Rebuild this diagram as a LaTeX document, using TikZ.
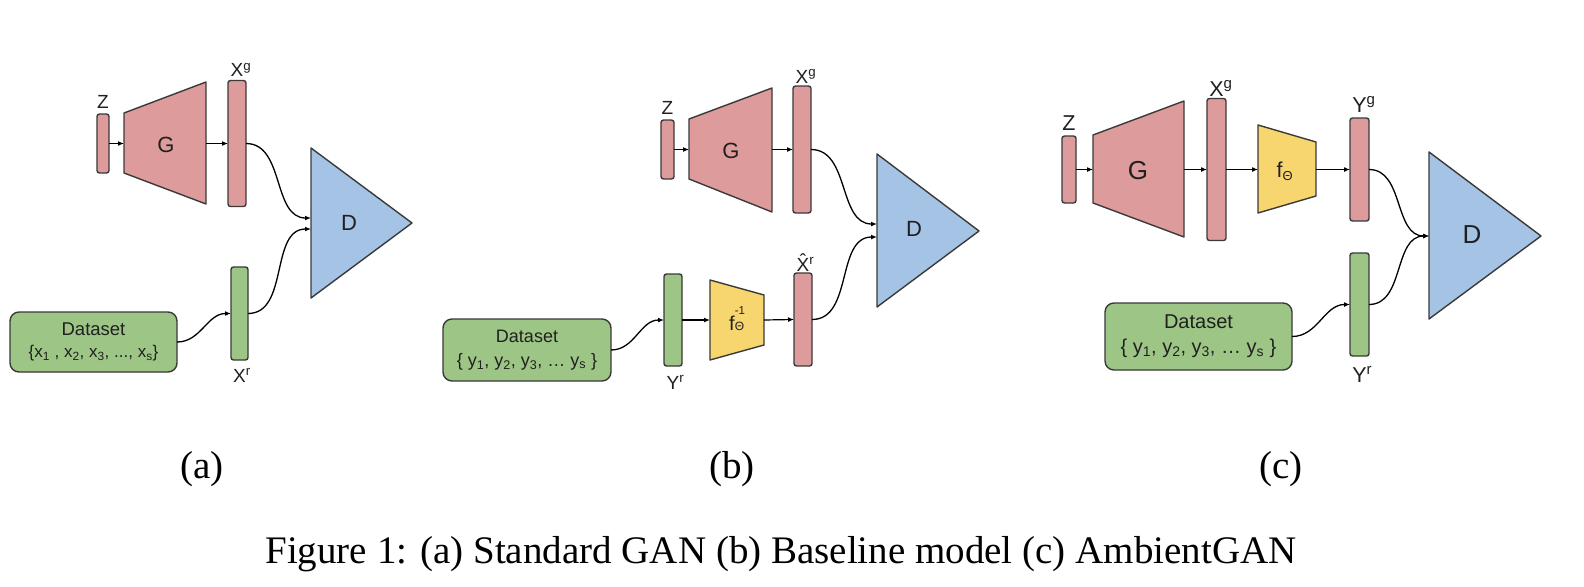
\documentclass[tikz,border=0pt]{standalone}
\usepackage{fontspec}
\setmainfont{Liberation Serif}
\setsansfont{Liberation Sans}
\usetikzlibrary{arrows.meta}
\definecolor{pinkf}{HTML}{DE9B9B}
\definecolor{greenf}{HTML}{9DC585}
\definecolor{yellowf}{HTML}{F8D66F}
\definecolor{bluef}{HTML}{A5C3E5}
\definecolor{edgec}{HTML}{3A3A3A}
\definecolor{txtc}{HTML}{202020}
\tikzset{
  bar/.style={draw=edgec, line width=1.4pt, rounded corners=2.5pt, inner sep=0pt, outer sep=0pt},
  blockshape/.style={draw=edgec, line width=1.4pt, line join=round},
  databox/.style={draw=edgec, line width=1.4pt, rounded corners=9pt, fill=greenf, inner sep=0pt, outer sep=0pt, align=center, text=txtc},
  lbl/.style={font=\sffamily\fontsize{19}{21}\selectfont, inner sep=0pt, text=txtc},
  lblc/.style={font=\sffamily\fontsize{21.5}{23}\selectfont, inner sep=0pt, text=txtc},
  big/.style={font=\sffamily\fontsize{22}{24}\selectfont, inner sep=0pt, text=txtc},
  bigc/.style={font=\sffamily\fontsize{26}{28}\selectfont, inner sep=0pt, text=txtc},
  arr/.style={-{Latex[length=6pt,width=5pt]}, line width=1.2pt, black},
  conn/.style={-{Latex[length=6pt,width=5pt]}, line width=1.3pt, black},
  captxt/.style={font=\rmfamily\fontsize{39}{42}\selectfont, inner sep=0pt}
}
\begin{document}
\begin{tikzpicture}[x=1pt,y=-1pt]
\useasboundingbox (0,0) rectangle (1584,586);
\fill[white] (0,0) rectangle (1584,586);

% ================= (a) =================
\node[bar,fill=pinkf,minimum width=12pt,minimum height=59pt] (aZ) at (103,143.5) {};
\node[lbl,anchor=base] (aZl) at (103,108) {Z};
\draw[blockshape,fill=pinkf] (124,113) -- (206,82) -- (206,204) -- (124,173) -- cycle;
\node[big] (aG) at (166,145) {G};
\coordinate (aGl) at (124,143.5);
\coordinate (aGr) at (206,143.5);
\node[bar,fill=pinkf,minimum width=18pt,minimum height=126pt] (aXg) at (237,143.5) {};
\node[lbl,anchor=base] (aXgl) at (237,77) {X\rlap{\textsuperscript{g}}};
\draw[arr] (aZ.east) -- (aGl);
\draw[arr] (aGr) -- (aXg.west);
\draw[blockshape,fill=bluef] (311,148) -- (412,223) -- (311,298) -- cycle;
\node[big] (aD) at (349,223) {D};
\coordinate (aDin1) at (311,218);
\coordinate (aDin2) at (311,229);
\node[bar,fill=greenf,minimum width=17pt,minimum height=93pt] (aXr) at (239.5,313.5) {};
\node[lbl,anchor=base] (aXrl) at (239.5,382) {X\rlap{\textsuperscript{r}}};
\node[databox,minimum width=167pt,minimum height=60pt,font=\sffamily\fontsize{17}{22}\selectfont] (aData) at (93.5,342)
  {{\fontsize{18.5}{22}\selectfont Dataset}\\\{x\textsubscript{1} , x\textsubscript{2}, x\textsubscript{3}, ..., x\textsubscript{s}\}};
\draw[conn] (aXg.east) to[out=0,in=180] (aDin1);
\draw[conn] (aXr.east) to[out=0,in=180] (aDin2);
\draw[conn] (aData.east) to[out=0,in=180] (aXr.west);
\node[captxt,anchor=base] (aCap) at (202,478) {(a)};

% ================= (b) =================
\node[bar,fill=pinkf,minimum width=13pt,minimum height=59pt] (bZ) at (667.5,149.5) {};
\node[lbl,anchor=base] (bZl) at (667.5,114) {Z};
\draw[blockshape,fill=pinkf] (689,119) -- (772,88) -- (772,212) -- (689,179) -- cycle;
\node[big] (bG) at (731,151) {G};
\coordinate (bGl) at (689,149.5);
\coordinate (bGr) at (772,149.5);
\node[bar,fill=pinkf,minimum width=18pt,minimum height=127pt] (bXg) at (802,149.5) {};
\node[lbl,anchor=base] (bXgl) at (802,83) {X\rlap{\textsuperscript{g}}};
\draw[arr] (bZ.east) -- (bGl);
\draw[arr] (bGr) -- (bXg.west);
\draw[blockshape,fill=bluef] (877,154) -- (979,231) -- (877,307) -- cycle;
\node[big] (bD) at (914,229) {D};
\coordinate (bDin1) at (877,224);
\coordinate (bDin2) at (877,237);
\node[bar,fill=greenf,minimum width=18pt,minimum height=92pt] (bYr) at (673,320) {};
\node[lbl,anchor=base] (bYrl) at (673,389) {Y\rlap{\textsuperscript{r}}};
\draw[blockshape,fill=yellowf] (710,280) -- (764,295) -- (764,345) -- (710,360) -- cycle;
\node[font=\sffamily\fontsize{20}{22}\selectfont,inner sep=0pt,text=txtc,anchor=base west] (bF) at (729,330)
  {f\rlap{\raisebox{16pt}{\fontsize{11.5}{12}\selectfont -1}}{\fontsize{12}{12}\selectfont Θ}};
\coordinate (bFl) at (710,320);
\coordinate (bFr) at (764,320);
\node[bar,fill=pinkf,minimum width=18pt,minimum height=93pt] (bXh) at (803,319.5) {};
\node[lbl,anchor=base] (bXhl) at (803,271) {\rlap{\raisebox{0.2em}{\kern0.17em\char"02C6}}X\rlap{\textsuperscript{r}}};
\draw[arr] (bYr.east) -- (bFl);
\draw[arr] (bFr) -- (bXh.west);
\node[databox,minimum width=168pt,minimum height=62pt,font=\sffamily\fontsize{18}{24}\selectfont] (bData) at (527,350)
  {Dataset\\\{ y\textsubscript{1}, y\textsubscript{2}, y\textsubscript{3}, … y\textsubscript{s} \}};
\draw[conn] (bXg.east) to[out=0,in=180] (bDin1);
\draw[conn] (bXh.east) to[out=0,in=180] (bDin2);
\draw[conn] (bData.east) to[out=0,in=180] (bYr.west);
\node[captxt,anchor=base] (bCap) at (732,478) {(b)};

% ================= (c) =================
\node[bar,fill=pinkf,minimum width=14pt,minimum height=67pt] (cZ) at (1069,169.5) {};
\node[lblc,anchor=base] (cZl) at (1069,130) {Z};
\draw[blockshape,fill=pinkf] (1093,135) -- (1184,101) -- (1184,237) -- (1093,203) -- cycle;
\node[bigc] (cG) at (1138,171) {G};
\coordinate (cGl) at (1093,169.5);
\coordinate (cGr) at (1184,169.5);
\node[bar,fill=pinkf,minimum width=19pt,minimum height=142pt] (cXg) at (1216.5,169.5) {};
\node[lblc,anchor=base] (cXgl) at (1216.5,96) {X\rlap{\textsuperscript{g}}};
\draw[blockshape,fill=yellowf] (1258,125) -- (1316,142) -- (1316,196) -- (1258,213) -- cycle;
\node[lblc] (cF) at (1285,171) {f\textsubscript{\fontsize{13}{13}\selectfont Θ}};
\coordinate (cFl) at (1258,169.5);
\coordinate (cFr) at (1316,169.5);
\node[bar,fill=pinkf,minimum width=19pt,minimum height=103pt] (cYg) at (1359.5,169.5) {};
\node[lblc,anchor=base] (cYgl) at (1359.5,112) {Y\rlap{\textsuperscript{g}}};
\draw[arr] (cZ.east) -- (cGl);
\draw[arr] (cGr) -- (cXg.west);
\draw[arr] (cXg.east) -- (cFl);
\draw[arr] (cFr) -- (cYg.west);
\draw[blockshape,fill=bluef] (1429,152) -- (1541,236) -- (1429,319) -- cycle;
\node[bigc] (cD) at (1472,235) {D};
\coordinate (cDin) at (1429,236);
\node[bar,fill=greenf,minimum width=19pt,minimum height=103pt] (cYr) at (1359.5,304.5) {};
\node[lblc,anchor=base] (cYrl) at (1359.5,382) {Y\rlap{\textsuperscript{r}}};
\node[databox,minimum width=187pt,minimum height=67pt,font=\sffamily\fontsize{20}{25}\selectfont] (cData) at (1198.5,336.5)
  {Dataset\\\{ y\textsubscript{1}, y\textsubscript{2}, y\textsubscript{3}, … y\textsubscript{s} \}};
\draw[conn] (cYg.east) to[out=0,in=180] (cDin);
\draw[conn] (cYr.east) to[out=0,in=180] (cDin);
\draw[conn] (cData.east) to[out=0,in=180] (cYr.west);
\node[captxt,anchor=base] (cCap) at (1281,478) {(c)};

% caption
\node[captxt,anchor=base] (fig) at (781,563) {Figure 1: (a) Standard GAN (b) Baseline model (c) AmbientGAN};
\end{tikzpicture}
\end{document}
